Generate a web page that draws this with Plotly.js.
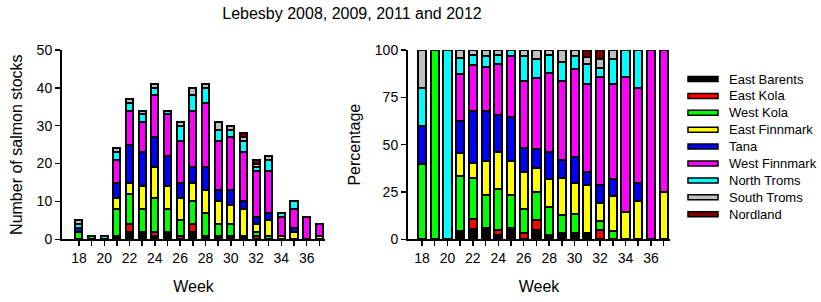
<!DOCTYPE html>
<html><head><meta charset="utf-8">
<script src="https://cdn.plot.ly/plotly-3.0.1.min.js"></script>
<style>html,body{margin:0;padding:0;background:#fff}#chart{width:821px;height:302px}</style>
</head><body><div id="chart"></div>
<script>
// Weeks (x categories)
const weeks = [18,19,20,21,22,23,24,25,26,27,28,29,30,31,32,33,34,35,36,37];
const weekTickLabels = ['18','','20','','22','','24','','26','','28','','30','','32','','34','','36',''];

// Number of salmon stocks per region and week
const eastBarents  = [0,0,0,1,2,2,1,2,0,2,1,1,1,1,0,0,0,0,0,0];
const eastKola     = [0,0,0,0,2,0,1,0,1,2,0,0,0,0,1,0,0,0,0,0];
const westKola     = [2,1,0,7,8,6,9,6,4,6,6,3,3,0,1,1,0,0,0,0];
const eastFinnmark = [0,0,0,3,3,6,8,6,6,5,6,6,5,7,2,4,1,2,0,1];
const tana         = [1,0,0,4,10,9,8,8,4,4,6,3,4,2,2,2,0,1,0,0];
const westFinnmark = [0,0,0,6,9,8,11,11,11,15,17,13,14,13,12,11,5,5,6,3];
const northTroms   = [1,0,1,2,2,2,2,1,4,4,4,3,2,3,1,3,1,2,0,0];
const southTroms   = [1,0,0,1,1,1,1,0,1,2,1,2,1,1,1,1,0,0,0,0];
const nordland     = [0,0,0,0,0,0,0,0,0,0,0,0,0,1,1,0,0,0,0,0];

const seriesNames  = ['East Barents','East Kola','West Kola','East Finnmark','Tana','West Finnmark','North Troms','South Troms','Nordland'];
const seriesValues = [eastBarents,eastKola,westKola,eastFinnmark,tana,westFinnmark,northTroms,southTroms,nordland];
const seriesColors = ['#000000','#ff0000','#00ff00','#ffff00','#0000ff','#ff00ff','#00ffff','#c0c0c0','#800000'];

const totals = weeks.map((w, j) => seriesValues.reduce((s, arr) => s + arr[j], 0));

const W = 821, H = 302;
const px = x => x / W;
const py = y => 1 - y / H;

const traces = [];
seriesValues.forEach((vals, i) => {
  traces.push({
    type: 'bar', name: seriesNames[i], x: weeks, y: vals,
    xaxis: 'x', yaxis: 'y', width: 0.56, showlegend: false,
    marker: {color: seriesColors[i], line: {color: '#000', width: 2}},
    hoverinfo: 'skip'
  });
});
seriesValues.forEach((vals, i) => {
  traces.push({
    type: 'bar', name: seriesNames[i], x: weeks,
    y: vals.map((v, j) => totals[j] ? v / totals[j] * 100 : 0),
    xaxis: 'x2', yaxis: 'y2', width: 0.64, showlegend: false,
    marker: {color: seriesColors[i], line: {color: '#000', width: 2}},
    hoverinfo: 'skip'
  });
});

const font = {family: '"Liberation Sans", Arial, sans-serif', color: '#000'};
const axisCommon = {
  showline: true, linewidth: 2, linecolor: '#000', showgrid: false, zeroline: false,
  ticks: 'outside', ticklen: 5, tickwidth: 1.5, tickcolor: '#000',
  tickfont: Object.assign({}, font, {size: 14}), fixedrange: true
};

const shapes = [], annotations = [];
seriesNames.forEach((name, i) => {
  const yc = 79 + i * 16.9;
  shapes.push({type: 'rect', xref: 'paper', yref: 'paper',
    x0: px(688), x1: px(718), y0: py(yc + 2.5), y1: py(yc - 2.5),
    fillcolor: seriesColors[i], line: {color: '#000', width: 1.5}});
  annotations.push({xref: 'paper', yref: 'paper', x: px(727), y: py(yc),
    xanchor: 'left', yanchor: 'middle', showarrow: false, text: name,
    font: Object.assign({}, font, {size: 13})});
});

const layout = {
  width: W, height: H, margin: {l: 0, r: 0, t: 0, b: 0},
  paper_bgcolor: '#fff', plot_bgcolor: '#fff', font: font,
  barmode: 'stack', showlegend: false,
  title: {text: 'Lebesby 2008, 2009, 2011 and 2012', x: px(352), xanchor: 'center',
          y: py(13), yanchor: 'middle', font: Object.assign({}, font, {size: 16})},
  xaxis: Object.assign({}, axisCommon, {domain: [px(62), px(325)], range: [16.66, 37.45],
    tickvals: weeks, ticktext: weekTickLabels, anchor: 'y',
    title: {text: 'Week', font: Object.assign({}, font, {size: 16}), standoff: 16}}),
  yaxis: Object.assign({}, axisCommon, {domain: [py(239.3), py(50)], range: [0, 50], dtick: 10, anchor: 'x',
    title: {text: 'Number of salmon stocks', font: Object.assign({}, font, {size: 16}), standoff: 10}}),
  xaxis2: Object.assign({}, axisCommon, {domain: [px(408), px(670)], range: [16.9, 37.5],
    tickvals: weeks, ticktext: weekTickLabels, anchor: 'y2',
    title: {text: 'Week', font: Object.assign({}, font, {size: 16}), standoff: 16}}),
  yaxis2: Object.assign({}, axisCommon, {domain: [py(239.3), py(50)], range: [0, 100], dtick: 25, anchor: 'x2',
    title: {text: 'Percentage', font: Object.assign({}, font, {size: 16}), standoff: 10}}),
  shapes: shapes, annotations: annotations
};

Plotly.newPlot('chart', traces, layout, {displayModeBar: false, staticPlot: true});
</script></body></html>
